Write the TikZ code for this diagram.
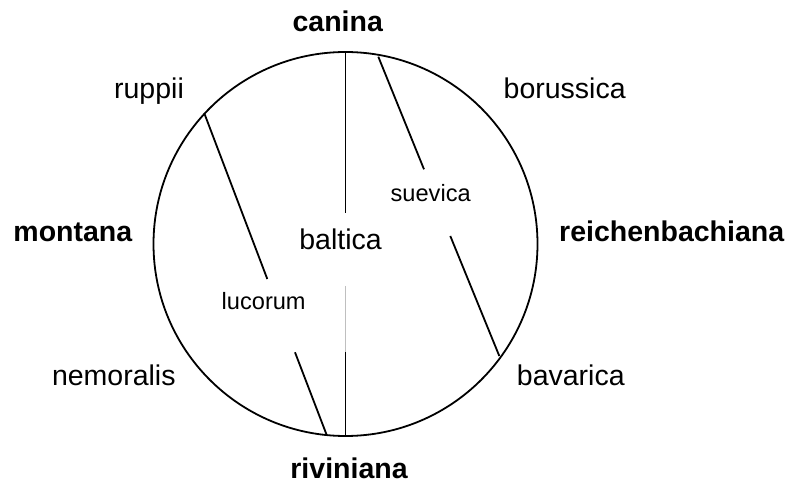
\documentclass[tikz,border=0pt]{standalone}
\usepackage{fontspec}
\setmainfont{Liberation Sans}
\begin{document}
\begin{tikzpicture}[x=1pt,y=-1pt,
  big/.style={font=\fontsize{28.5}{34}\selectfont, anchor=base, inner sep=0pt},
  bigb/.style={font=\fontsize{28.5}{34}\selectfont\bfseries, anchor=base, inner sep=0pt},
  small/.style={font=\fontsize{23.6}{28}\selectfont, anchor=base, inner sep=0pt},
  ln/.style={line width=1.8pt, black},
  faint/.style={line width=0.8pt, black!25}]
\useasboundingbox (0,0) rectangle (790,486);
\node[circle, draw, line width=1.8pt, minimum size=384pt, inner sep=0pt] (circ) at (345.5,244) {};
% labels
\node[bigb] (canina) at (337.7,31.7) {canina};
\node[big] (ruppii) at (149,98.3) {ruppii};
\node[big] (borussica) at (564.7,98.3) {borussica};
\node[bigb] (montana) at (72.8,241.7) {montana};
\node[bigb] (reich) at (671.7,241.7) {reichenbachiana};
\node[big] (nemoralis) at (113.8,385.7) {nemoralis};
\node[big] (bavarica) at (570.8,385.7) {bavarica};
\node[bigb] (riviniana) at (349,478) {riviniana};
\node[big] (baltica) at (340.5,250) {baltica};
\node[small] (suevica) at (430.7,201.7) {suevica};
\node[small] (lucorum) at (263.7,309.3) {lucorum};
% line end points
\coordinate (v1) at (circ.north);
\coordinate (v2) at (345.5,212.7);
\coordinate (v3) at (345.5,286);
\coordinate (v4) at (345.5,352.3);
\coordinate (v5) at (circ.south);
\coordinate (l1) at (204.3,113.3);
\coordinate (l2) at (267.3,279);
\coordinate (l3) at (295,352.3);
\coordinate (l4) at (326.7,435);
\coordinate (s1) at (378.3,56.7);
\coordinate (s2) at (424,169.3);
\coordinate (s3) at (450.3,236);
\coordinate (s4) at (499.3,356);
\draw[ln] (v1) -- (v2);
\draw[faint] (v3) -- (v4);
\draw[ln] (v4) -- (v5);
\draw[ln] (l1) -- (l2);
\draw[ln] (l3) -- (l4);
\draw[ln] (s1) -- (s2);
\draw[ln] (s3) -- (s4);
\end{tikzpicture}
\end{document}
